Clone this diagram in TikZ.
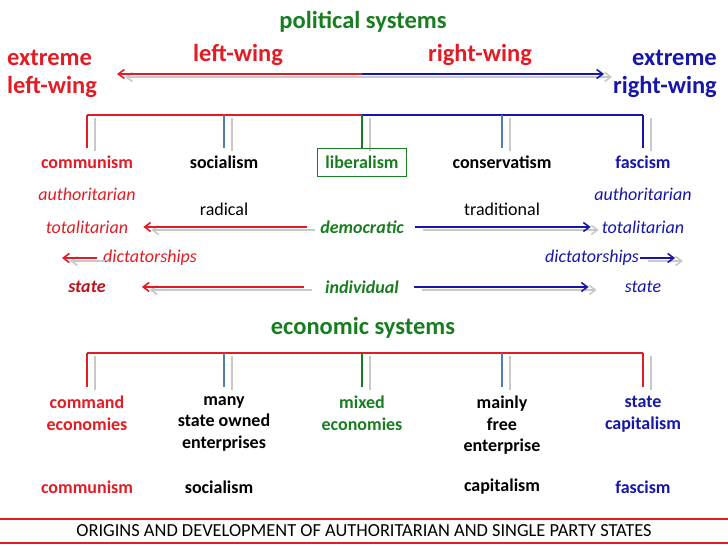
\documentclass[tikz,border=0pt]{standalone}
\usepackage{fontspec}
\setmainfont{Carlito}
\usetikzlibrary{arrows.meta}
\definecolor{pred}{RGB}{226,28,36}
\definecolor{pdark}{RGB}{185,18,28}
\definecolor{pblue}{RGB}{22,22,170}
\definecolor{pgreen}{RGB}{24,125,32}
\definecolor{psteel}{RGB}{80,125,175}
\definecolor{pshadow}{RGB}{200,200,200}

\begin{document}
\begin{tikzpicture}[x=1pt, y=-1pt,
  >={Straight Barb[length=6pt, width=9pt]},
  every node/.style={font=\fontsize{18}{21.5}\selectfont, inner sep=1pt, align=center},
  lab/.style    = {font=\fontsize{18}{21.5}\selectfont\bfseries},
  ital/.style   = {font=\fontsize{18}{21.5}\selectfont\itshape},
  boldit/.style = {font=\fontsize{18}{21.5}\selectfont\bfseries\itshape},
  head/.style   = {font=\fontsize{24.5}{28}\selectfont\bfseries, pgreen},
  wing/.style   = {font=\fontsize{24.5}{28}\selectfont\bfseries},
  arr/.style    = {->, line width=1.6pt},
  shade/.style  = {pshadow, transform canvas={shift={(8,3)}}},
  tick/.style   = {line width=1.6pt},
  libbox/.style = {lab, pgreen, draw=pgreen, thin, minimum width=89pt, minimum height=28pt},
]
  \useasboundingbox (0,0) rectangle (728,546);

  % political systems
  \node[head]                               (polsys) at (363,22)  {political systems};
  \node[wing, pred]                         (lw)     at (238,55)  {left-wing};
  \node[wing, pred]                         (rw)     at (480,55)  {right-wing};
  \node[wing, pred, anchor=west, align=left]   (xlw) at (6,74)    {extreme\\left-wing};
  \node[wing, pblue, anchor=east, align=right] (xrw) at (718,74)  {extreme\\right-wing};
  \coordinate (wmid) at (362,74);
  \coordinate (wlft) at (117,74);
  \coordinate (wrgt) at (604,74);
  \draw[arr, shade] (wmid) -- (wlft);
  \draw[arr, shade] (wmid) -- (wrgt);
  \draw[arr, pred]  (wmid) -- (wlft);
  \draw[arr, pblue] (wmid) -- (wrgt);

  % bracket of the political systems
  \foreach \n/\x in {a/87, b/224, c/362, d/502, e/643} {
    \coordinate (pt\n) at (\x,115);
    \coordinate (pb\n) at (\x,148);
  }
  \foreach \n in {a, b, c, d, e}
    \draw[tick, shade] (pt\n) -- (pb\n);
  \draw[tick, pred]   (pta) -- (ptc);
  \draw[tick, pblue]  (ptc) -- (pte);
  \draw[tick, pred]   (pta) -- (pba);
  \draw[tick, psteel] (ptb) -- (pbb);
  \draw[tick, pgreen] (ptc) -- (pbc);
  \draw[tick, psteel] (ptd) -- (pbd);
  \draw[tick, pblue]  (pte) -- (pbe);

  \node[lab, pred]   (comm)  at (87,162)  {communism};
  \node[lab]         (soc)   at (224,162) {socialism};
  \node[libbox]      (lib)   at (362,162) {liberalism};
  \node[lab]         (cons)  at (502,162) {conservatism};
  \node[lab, pblue]  (fasc)  at (643,162) {fascism};

  \node[ital, pred]  (lauth) at (87,194)  {authoritarian};
  \node[ital, pblue] (rauth) at (643,194) {authoritarian};
  \node              (rad)   at (224,209) {radical};
  \node              (trad)  at (502,209) {traditional};
  \node[ital, pred]  (ltot)  at (87,227)  {totalitarian};
  \node[boldit, pgreen] (dem) at (362,227) {democratic};
  \node[ital, pblue] (rtot)  at (643,227) {totalitarian};
  \node[ital, pred]  (ldict) at (150,258) {dictatorships};
  \node[ital, pblue] (rdict) at (592,258) {dictatorships};
  \node[boldit, pdark] (lst) at (87,287)  {state};
  \node[boldit, pgreen] (ind) at (362,287) {individual};
  \node[ital, pblue] (rst)   at (643,287) {state};
  \coordinate (ldend) at (62,258);
  \coordinate (rdend) at (675,258);

  \foreach \a/\b/\s/\t/\c in {dem.west/ltot.east/12/14/pred, dem.east/rtot.west/10/10/pblue,
                              ind.west/lst.east/20/35/pred, ind.east/rst.west/14/35/pblue}
  {
    \draw[arr, shade, shorten <=\s pt, shorten >=\t pt] (\a) -- (\b);
    \draw[arr, \c,    shorten <=\s pt, shorten >=\t pt] (\a) -- (\b);
  }
  \draw[arr, shade, shorten <=5pt] (ldict.west) -- (ldend);
  \draw[arr, pred,  shorten <=5pt] (ldict.west) -- (ldend);
  \draw[arr, shade] (rdict.east) -- (rdend);
  \draw[arr, pblue] (rdict.east) -- (rdend);

  % economic systems
  \node[head] (ecosys) at (363,328) {economic systems};
  \foreach \n/\x in {a/87, b/224, c/362, d/502, e/643} {
    \coordinate (et\n) at (\x,353);
    \coordinate (eb\n) at (\x,387);
  }
  \foreach \n in {a, b, c, d, e}
    \draw[tick, shade] (et\n) -- (eb\n);
  \draw[tick, pred]   (eta) -- (ete);
  \draw[tick, pred]   (eta) -- (eba);
  \draw[tick, psteel] (etb) -- (ebb);
  \draw[tick, pgreen] (etc) -- (ebc);
  \draw[tick, psteel] (etd) -- (ebd);
  \draw[tick, pred]   (ete) -- (ebe);

  \node[lab, pred,   anchor=north] (cmd)   at (87,395)  {command\\economies};
  \node[lab,         anchor=north] (sowned) at (224,395) {many\\state owned\\enterprises};
  \node[lab, pgreen, anchor=north] (mixed) at (362,395) {mixed\\economies};
  \node[lab,         anchor=north] (free)  at (502,395) {mainly\\free\\enterprise};
  \node[lab, pblue,  anchor=north] (stcap) at (643,395) {state\\capitalism};

  \node[lab, pred]  (ecomm) at (87,487)  {communism};
  \node[lab]        (esoc)  at (219,487) {socialism};
  \node[lab]        (ecap)  at (502,487) {capitalism};
  \node[lab, pblue] (efasc) at (643,487) {fascism};

  % footer
  \coordinate (fl1) at (0,519);   \coordinate (fr1) at (728,519);
  \coordinate (fl2) at (0,543);   \coordinate (fr2) at (728,543);
  \draw[tick, pred] (fl1) -- (fr1);
  \draw[tick, pred] (fl2) -- (fr2);
  \node[font=\fontsize{18.4}{20}\selectfont] (foot) at (364,531)
    {ORIGINS AND DEVELOPMENT OF AUTHORITARIAN AND SINGLE PARTY STATES};
\end{tikzpicture}
\end{document}
